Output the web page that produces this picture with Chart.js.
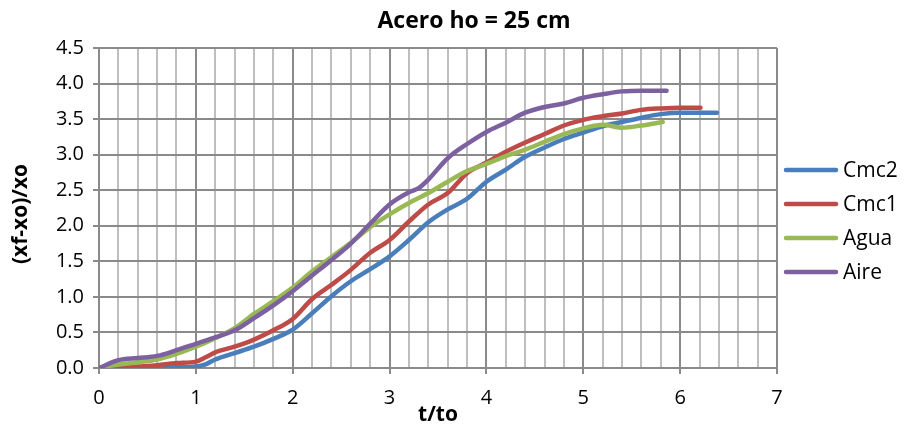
<!DOCTYPE html>
<html><head><meta charset="utf-8">
<script src="https://cdn.jsdelivr.net/npm/chart.js@4/dist/chart.umd.min.js"></script>
<style>html,body{margin:0;padding:0;background:#fff}</style>
</head><body>
<canvas id="c" width="904" height="430" style="display:block;width:904px;height:430px"></canvas>
<script>
const chartTitle = 'Acero ho = 25 cm';
const xTitle = 't/to';
const yTitle = '(xf-xo)/xo';
const seriesNames = ['Cmc2', 'Cmc1', 'Agua', 'Aire'];
const seriesColors = ['#4A7EBB', '#BE4B48', '#98B954', '#7D60A0'];

const tCmc2 = [0,0.2,0.4,0.6,0.8,1.0,1.1,1.2,1.4,1.6,1.8,2.0,2.2,2.4,2.6,2.8,3.0,3.2,3.4,3.6,3.8,4.0,4.2,4.4,4.6,4.8,5.0,5.2,5.4,5.6,5.8,6.0,6.2,6.38];
const yCmc2 = [0,0,0,0,0.01,0.02,0.05,0.12,0.21,0.30,0.41,0.54,0.77,1.01,1.22,1.39,1.57,1.80,2.05,2.23,2.38,2.62,2.79,2.97,3.10,3.22,3.31,3.40,3.46,3.52,3.57,3.59,3.59,3.59];

const tCmc1 = [0,0.2,0.4,0.6,0.8,1.0,1.1,1.2,1.4,1.6,1.8,2.0,2.2,2.4,2.6,2.8,3.0,3.2,3.4,3.6,3.8,4.0,4.2,4.4,4.6,4.8,5.0,5.2,5.4,5.6,5.8,6.0,6.21];
const yCmc1 = [0,0,0.02,0.04,0.07,0.09,0.15,0.22,0.30,0.40,0.53,0.69,0.97,1.17,1.38,1.62,1.80,2.06,2.30,2.46,2.74,2.89,3.04,3.17,3.29,3.41,3.49,3.54,3.58,3.63,3.65,3.66,3.66];

const tAgua = [0,0.2,0.4,0.6,0.8,1.0,1.2,1.4,1.6,1.8,2.0,2.2,2.4,2.6,2.8,3.0,3.2,3.4,3.6,3.8,4.0,4.2,4.4,4.6,4.8,5.0,5.2,5.4,5.6,5.82];
const yAgua = [0,0.05,0.08,0.12,0.20,0.30,0.42,0.56,0.76,0.94,1.13,1.36,1.56,1.76,1.98,2.16,2.32,2.46,2.62,2.77,2.87,2.98,3.07,3.18,3.29,3.37,3.42,3.38,3.41,3.46];

const tAire = [0,0.2,0.4,0.6,0.8,1.0,1.2,1.4,1.6,1.8,2.0,2.2,2.4,2.6,2.8,3.0,3.2,3.3,3.4,3.6,3.8,4.0,4.2,4.4,4.6,4.8,5.0,5.2,5.4,5.6,5.86];
const yAire = [0,0.11,0.14,0.17,0.25,0.34,0.43,0.53,0.70,0.88,1.08,1.30,1.52,1.75,2.03,2.30,2.47,2.53,2.65,2.95,3.15,3.32,3.45,3.59,3.67,3.72,3.80,3.85,3.89,3.90,3.90];

const xTickLabels = ['0','1','2','3','4','5','6','7'];
const yTickLabels = ['0.0','0.5','1.0','1.5','2.0','2.5','3.0','3.5','4.0','4.5'];

const FONT = "'Open Sans', 'Liberation Sans', sans-serif";
const MAJOR = '#8a8a8a', MINOR = '#bfbfbf';
const isInt = v => Math.abs(v - Math.round(v)) < 1e-6;

const seriesT = [tCmc2, tCmc1, tAgua, tAire];
const seriesY = [yCmc2, yCmc1, yAgua, yAire];

const datasets = seriesNames.map((name, i) => ({
  label: name,
  data: seriesT[i].map((t, k) => ({x: t, y: seriesY[i][k]})),
  borderColor: seriesColors[i],
  backgroundColor: seriesColors[i],
  borderWidth: 4.5,
  pointRadius: 0,
  pointHoverRadius: 0,
  fill: false,
  cubicInterpolationMode: 'monotone',
  borderCapStyle: 'round',
  borderJoinStyle: 'round',
  order: seriesNames.length - 1 - i
}));

const textPlugin = {
  id: 'texts',
  afterDraw(chart) {
    const ctx = chart.ctx;
    const ca = chart.chartArea;
    ctx.save();
    ctx.fillStyle = '#000';
    ctx.textAlign = 'center';
    ctx.textBaseline = 'middle';
    ctx.font = "bold 23px " + FONT;
    ctx.fillText(chartTitle, 474, 21);
    ctx.font = "bold 21px " + FONT;
    ctx.fillText(xTitle, (ca.left + ca.right) / 2, 415);
    ctx.save();
    ctx.translate(21, 214);
    ctx.rotate(-Math.PI / 2);
    ctx.fillText(yTitle, 0, 0);
    ctx.restore();
    // legend
    const rows = [170, 204, 238, 272];
    ctx.textAlign = 'left';
    ctx.font = "21px " + FONT;
    chart.data.datasets.forEach((ds, i) => {
      const y = rows[i];
      ctx.strokeStyle = ds.borderColor;
      ctx.lineWidth = 4.5;
      ctx.lineCap = 'round';
      ctx.beginPath();
      ctx.moveTo(786, y);
      ctx.lineTo(836, y);
      ctx.stroke();
      ctx.fillStyle = '#000';
      ctx.fillText(ds.label, 843, y + 1);
    });
    ctx.restore();
  }
};

new Chart(document.getElementById('c'), {
  type: 'line',
  data: { datasets },
  plugins: [textPlugin],
  options: {
    responsive: false,
    animation: false,
    devicePixelRatio: 1,
    layout: { padding: { left: 0, right: 127, top: 48, bottom: 0 } },
    plugins: { legend: { display: false }, title: { display: false }, tooltip: { enabled: false } },
    scales: {
      x: {
        type: 'linear', min: 0, max: 7,
        ticks: {
          stepSize: 0.2, autoSkip: false, maxRotation: 0, minRotation: 0,
          color: '#000', font: { family: FONT, size: 20 }, padding: 12,
          callback: v => isInt(v) ? xTickLabels[Math.round(v)] : ''
        },
        grid: {
          color: c => isInt(c.tick.value) ? MAJOR : MINOR,
          lineWidth: 2,
          tickLength: 6,
          tickColor: c => isInt(c.tick.value) ? MAJOR : 'rgba(0,0,0,0)'
        },
        border: { display: true, color: MAJOR, width: 2 },
        afterFit: s => { s.height = 62; }
      },
      y: {
        type: 'linear', min: 0, max: 4.5,
        ticks: {
          stepSize: 0.5, color: '#000', font: { family: FONT, size: 20 }, padding: 9,
          callback: v => yTickLabels[Math.round(v / 0.5)]
        },
        grid: { color: MAJOR, lineWidth: 2, tickLength: 6, tickColor: MAJOR },
        border: { display: true, color: MAJOR, width: 2 },
        afterFit: s => { s.width = 99; }
      }
    }
  }
});
</script>
</body></html>
